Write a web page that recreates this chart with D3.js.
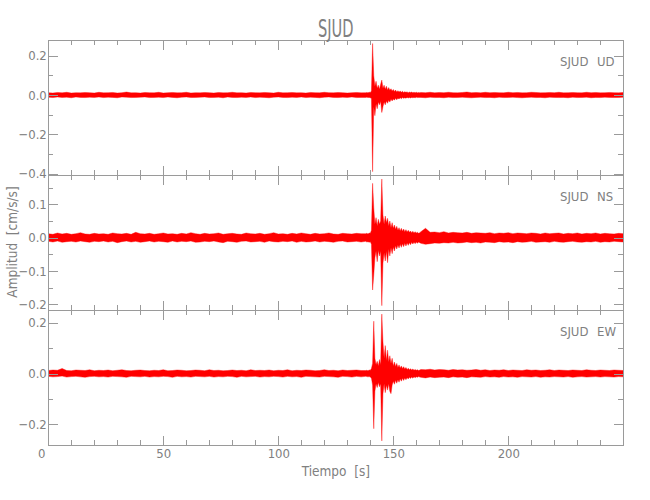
<!DOCTYPE html>
<html><head><meta charset="utf-8">
<script src="https://cdn.jsdelivr.net/npm/d3@7"></script>
<style>
body{margin:0;background:#fff}
text{font-family:"Liberation Sans Narrow","DejaVu Sans Condensed","Liberation Sans",sans-serif;fill:#808080}
</style>
</head><body>
<svg id="c" width="650" height="500"></svg>
<script>
// ---------- chart text ----------
const title = "SJUD";
const station = "SJUD";
const components = ["UD", "NS", "EW"];
const xLabel = "Tiempo  [s]";
const yLabel = "Amplitud  [cm/s/s]";

// ---------- axes ----------
const xDomain = [0, 250];
const xMajorTicks = [0, 50, 100, 150, 200, 250];
const xTickLabels = [0, 50, 100, 150, 200];
const yDomains = [[-0.407, 0.28], [-0.217, 0.188], [-0.281, 0.25]];
const yMajorSteps = [0.2, 0.1, 0.2];
const yMinorSteps = [0.1, 0.05, 0.1];

// ---------- sampling of the traces (start time, step in s) ----------
const preStart = 0, preStep = 2;      // 0 .. 136 s
const evtStart = 138, evtStep = 0.5;  // 138 .. 161.5 s
const postStart = 162, postStep = 2;  // 162 .. 250 s

// ---------- UD trace (upper / lower envelope, cm/s/s) ----------
const udPreHi = [.012,.010,.013,.011,.014,.010,.012,.011,.013,.012,
 .010,.014,.011,.012,.013,.010,.012,.015,.011,.012,
 .010,.013,.012,.011,.014,.010,.012,.013,.011,.012,
 .014,.010,.012,.011,.013,.012,.010,.013,.011,.012,
 .014,.011,.012,.010,.013,.012,.011,.013,.012,.010,
 .014,.011,.012,.013,.011,.012,.010,.013,.012,.011,
 .014,.012,.011,.013,.012,.010,.012,.013,.011];
const udPreLo = [-.011,-.013,-.010,-.012,-.011,-.014,-.010,-.012,-.013,-.011,
 -.012,-.010,-.013,-.011,-.012,-.014,-.010,-.011,-.013,-.012,
 -.011,-.010,-.013,-.012,-.011,-.013,-.010,-.012,-.014,-.011,
 -.010,-.013,-.012,-.011,-.010,-.013,-.012,-.011,-.014,-.010,
 -.012,-.013,-.011,-.012,-.010,-.013,-.011,-.012,-.014,-.011,
 -.010,-.012,-.013,-.011,-.012,-.010,-.013,-.011,-.012,-.014,
 -.011,-.010,-.012,-.013,-.011,-.012,-.010,-.013,-.012];
const udEvtHi = [.012,.013,.011,.014,.013,.020,.262,.098,.045,.070,
 .035,.050,.030,.055,.076,.035,.050,.030,.045,.026,
 .038,.024,.032,.020,.028,.018,.025,.016,.022,.015,
 .020,.014,.019,.013,.017,.014,.016,.012,.015,.013,
 .015,.012,.014,.012,.014,.011,.013,.012];
const udEvtLo = [-.012,-.011,-.013,-.012,-.014,-.018,-.390,-.060,-.105,-.045,
 -.070,-.035,-.050,-.032,-.089,-.060,-.035,-.050,-.030,-.042,
 -.026,-.036,-.022,-.030,-.020,-.026,-.017,-.024,-.016,-.020,
 -.014,-.019,-.013,-.017,-.014,-.016,-.012,-.015,-.013,-.015,
 -.012,-.014,-.012,-.014,-.011,-.013,-.012,-.012];
const udPostHi = [.013,.012,.014,.011,.013,.012,.014,.012,.011,.013,
 .015,.012,.013,.011,.014,.012,.013,.012,.011,.014,
 .012,.013,.011,.012,.014,.013,.011,.012,.013,.012,
 .014,.011,.012,.013,.012,.011,.014,.012,.013,.011,
 .012,.013,.012,.011,.013];
const udPostLo = [-.012,-.014,-.011,-.013,-.012,-.014,-.011,-.013,-.012,-.011,
 -.013,-.014,-.012,-.011,-.013,-.012,-.014,-.011,-.013,-.012,
 -.011,-.013,-.014,-.012,-.011,-.013,-.012,-.014,-.011,-.012,
 -.013,-.012,-.014,-.011,-.013,-.012,-.011,-.014,-.012,-.013,
 -.011,-.012,-.013,-.012,-.011];

// ---------- NS trace ----------
const nsPreHi = [.012,.010,.014,.011,.013,.010,.012,.015,.011,.010,
 .013,.011,.012,.010,.014,.012,.011,.013,.010,.016,
 .012,.011,.013,.010,.012,.014,.011,.012,.010,.013,
 .011,.015,.012,.010,.013,.011,.012,.014,.010,.012,
 .013,.011,.010,.014,.012,.011,.013,.010,.012,.015,
 .011,.012,.010,.013,.011,.014,.012,.010,.013,.011,
 .012,.014,.011,.010,.013,.012,.011,.013,.012];
const nsPreLo = [-.011,-.013,-.010,-.014,-.012,-.011,-.013,-.010,-.012,-.014,
 -.011,-.012,-.010,-.013,-.011,-.015,-.012,-.010,-.013,-.011,
 -.014,-.012,-.010,-.013,-.011,-.012,-.014,-.010,-.013,-.011,
 -.012,-.010,-.014,-.013,-.011,-.012,-.010,-.013,-.015,-.011,
 -.012,-.014,-.011,-.010,-.013,-.012,-.011,-.014,-.010,-.012,
 -.013,-.011,-.012,-.010,-.014,-.011,-.013,-.012,-.010,-.013,
 -.011,-.012,-.014,-.011,-.010,-.013,-.012,-.011,-.013];
const nsEvtHi = [.012,.013,.011,.014,.013,.022,.163,.090,.040,.060,
 .035,.055,.040,.050,.176,.068,.040,.065,.045,.058,
 .035,.050,.030,.045,.028,.038,.025,.034,.022,.030,
 .020,.028,.019,.026,.018,.024,.017,.022,.016,.020,
 .015,.019,.014,.018,.014,.016,.013,.015];
const nsEvtLo = [-.011,-.013,-.012,-.014,-.012,-.020,-.157,-.112,-.060,-.040,
 -.072,-.038,-.055,-.040,-.204,-.077,-.045,-.070,-.040,-.075,
 -.035,-.055,-.030,-.048,-.028,-.040,-.024,-.034,-.022,-.031,
 -.020,-.029,-.018,-.027,-.017,-.025,-.016,-.023,-.015,-.021,
 -.014,-.019,-.014,-.018,-.013,-.017,-.013,-.015];
const nsPostHi = [.018,.028,.016,.017,.015,.018,.014,.016,.015,.014,
 .016,.013,.015,.014,.013,.015,.012,.014,.013,.015,
 .012,.014,.013,.012,.014,.013,.011,.014,.012,.013,
 .014,.011,.013,.012,.014,.011,.013,.012,.014,.011,
 .013,.012,.011,.013,.012];
const nsPostLo = [-.017,-.020,-.018,-.016,-.017,-.015,-.016,-.014,-.016,-.015,
 -.013,-.015,-.014,-.016,-.013,-.014,-.015,-.012,-.014,-.013,
 -.015,-.012,-.014,-.013,-.011,-.014,-.013,-.012,-.014,-.011,
 -.013,-.014,-.012,-.011,-.013,-.014,-.012,-.013,-.011,-.014,
 -.012,-.013,-.011,-.012,-.013];

// ---------- EW trace ----------
const ewPreHi = [.012,.014,.013,.020,.012,.011,.014,.013,.012,.015,
 .011,.013,.012,.014,.011,.013,.015,.012,.011,.013,
 .014,.012,.011,.013,.012,.015,.011,.012,.014,.013,
 .011,.012,.014,.013,.011,.015,.012,.013,.011,.012,
 .014,.012,.013,.011,.015,.012,.013,.012,.014,.011,
 .013,.012,.015,.011,.013,.012,.014,.013,.011,.012,
 .015,.012,.013,.011,.014,.012,.013,.014,.012];
const ewPreLo = [-.011,-.013,-.012,-.010,-.014,-.012,-.011,-.013,-.015,-.012,
 -.011,-.013,-.012,-.014,-.011,-.012,-.013,-.015,-.011,-.012,
 -.013,-.011,-.014,-.012,-.013,-.011,-.012,-.015,-.011,-.013,
 -.012,-.014,-.011,-.012,-.013,-.011,-.014,-.012,-.013,-.011,
 -.012,-.015,-.011,-.013,-.012,-.011,-.014,-.012,-.013,-.011,
 -.012,-.014,-.011,-.013,-.012,-.015,-.011,-.012,-.013,-.014,
 -.011,-.012,-.013,-.015,-.011,-.012,-.014,-.011,-.013];
const ewEvtHi = [.012,.013,.011,.014,.013,.020,.040,.206,.060,.035,
 .048,.030,.055,.035,.234,.125,.060,.110,.050,.092,
 .045,.070,.040,.060,.030,.045,.028,.040,.024,.034,
 .022,.030,.020,.027,.018,.024,.016,.021,.015,.019,
 .014,.018,.013,.016,.013,.015,.012,.014];
const ewEvtLo = [-.011,-.012,-.013,-.012,-.014,-.018,-.045,-.217,-.070,-.040,
 -.055,-.035,-.052,-.040,-.265,-.079,-.040,-.075,-.045,-.065,
 -.040,-.070,-.079,-.045,-.030,-.042,-.026,-.038,-.024,-.034,
 -.020,-.030,-.018,-.027,-.017,-.024,-.016,-.021,-.015,-.019,
 -.014,-.018,-.013,-.016,-.013,-.015,-.012,-.014];
const ewPostHi = [.016,.015,.017,.014,.016,.015,.013,.016,.014,.015,
 .013,.014,.016,.013,.015,.012,.014,.013,.015,.012,
 .014,.013,.012,.015,.013,.014,.012,.013,.015,.012,
 .014,.013,.012,.014,.013,.012,.015,.013,.012,.014,
 .013,.012,.014,.013,.012];
const ewPostLo = [-.015,-.017,-.014,-.016,-.015,-.014,-.016,-.013,-.015,-.014,
 -.016,-.013,-.014,-.015,-.012,-.014,-.013,-.015,-.012,-.014,
 -.013,-.015,-.012,-.013,-.014,-.012,-.015,-.013,-.014,-.012,
 -.013,-.014,-.012,-.015,-.013,-.012,-.014,-.013,-.012,-.014,
 -.012,-.013,-.014,-.012,-.013];

// ---------- assemble ----------
function segment(start, step, hi, lo) {
  return hi.map((h, i) => ({ t: start + i * step, hi: h, lo: lo[i] }));
}
function trace(preHi, preLo, evtHi, evtLo, postHi, postLo) {
  return [].concat(
    segment(preStart, preStep, preHi, preLo),
    segment(evtStart, evtStep, evtHi, evtLo),
    segment(postStart, postStep, postHi, postLo));
}
const traces = [
  trace(udPreHi, udPreLo, udEvtHi, udEvtLo, udPostHi, udPostLo),
  trace(nsPreHi, nsPreLo, nsEvtHi, nsEvtLo, nsPostHi, nsPostLo),
  trace(ewPreHi, ewPreLo, ewEvtHi, ewEvtLo, ewPostHi, ewPostLo)
];

// ---------- layout ----------
const mLeft = 48.3, mRight = 623.3, mTop = 40, panelH = 135;
const axisColor = "#9a9a9a";
const textColor = "#808080";
const svg = d3.select("#c");

const x = d3.scaleLinear().domain(xDomain).range([mLeft, mRight]);
const minorX = d3.range(xDomain[0], xDomain[1] + 0.001, 10);
const fmt = d3.format(".1f");

function styleAxis(g) {
  g.selectAll("path.domain").remove();
  g.selectAll("line").attr("stroke", axisColor).attr("shape-rendering", "crispEdges");
  g.selectAll("text").attr("fill", textColor).style("font-size", "13px")
    .style("font-family", '"Liberation Sans Narrow","DejaVu Sans Condensed",sans-serif');
}

traces.forEach((data, i) => {
  const y0 = mTop + i * panelH, y1 = y0 + panelH;
  const y = d3.scaleLinear().domain(yDomains[i]).range([y1, y0]);
  const [dmin, dmax] = yDomains[i];
  const major = d3.range(Math.ceil(dmin / yMajorSteps[i] - 1e-6) * yMajorSteps[i], dmax + 1e-6, yMajorSteps[i]);
  const minor = d3.range(Math.ceil(dmin / yMinorSteps[i] - 1e-6) * yMinorSteps[i], dmax + 1e-6, yMinorSteps[i]);
  const g = svg.append("g");

  const cid = "clip" + i;
  svg.append("clipPath").attr("id", cid).append("rect")
    .attr("x", mLeft).attr("y", y0).attr("width", mRight - mLeft).attr("height", panelH);

  const area = d3.area().x(d => x(d.t)).y0(d => y(d.lo)).y1(d => y(d.hi));
  g.append("path").datum(data).attr("clip-path", `url(#${cid})`)
    .attr("d", area).attr("fill", "#ff0000").attr("stroke", "#ff0000")
    .attr("stroke-width", 0.4).attr("stroke-linejoin", "round");

  g.append("rect").attr("x", mLeft).attr("y", y0).attr("width", mRight - mLeft).attr("height", panelH)
    .attr("fill", "none").attr("stroke", axisColor).attr("shape-rendering", "crispEdges");

  g.append("g").attr("transform", `translate(${mLeft},0)`)
    .call(d3.axisLeft(y).tickValues(minor).tickSize(-5).tickFormat("")).call(styleAxis);
  g.append("g").attr("transform", `translate(${mLeft},0)`)
    .call(d3.axisLeft(y).tickValues(major).tickSize(-10).tickPadding(1.5).tickFormat(fmt)).call(styleAxis);
  g.append("g").attr("transform", `translate(${mRight},0)`)
    .call(d3.axisRight(y).tickValues(minor).tickSize(-5).tickFormat("")).call(styleAxis);
  g.append("g").attr("transform", `translate(${mRight},0)`)
    .call(d3.axisRight(y).tickValues(major).tickSize(-9).tickFormat("")).call(styleAxis);
  g.append("g").attr("transform", `translate(0,${y0})`)
    .call(d3.axisTop(x).tickValues(minorX).tickSize(-5).tickFormat("")).call(styleAxis);
  g.append("g").attr("transform", `translate(0,${y0})`)
    .call(d3.axisTop(x).tickValues(xMajorTicks).tickSize(-9.5).tickFormat("")).call(styleAxis);
  g.append("g").attr("transform", `translate(0,${y1})`)
    .call(d3.axisBottom(x).tickValues(minorX).tickSize(-5).tickFormat("")).call(styleAxis);
  const bottomAxis = g.append("g").attr("transform", `translate(0,${y1})`)
    .call(d3.axisBottom(x).tickValues(xMajorTicks).tickSize(-9.5).tickPadding(4)
      .tickFormat(d => (i === traces.length - 1 && xTickLabels.includes(d)) ? d : "")).call(styleAxis);
  bottomAxis.selectAll(".tick text").filter(d => d === 0).attr("dx", -7);

  g.append("text").attr("x", 560).attr("y", y0 + 26).style("font-size", "13px").text(station);
  g.append("text").attr("x", 597).attr("y", y0 + 26).style("font-size", "13px").text(components[i]);
});

svg.append("text").attr("transform", `translate(${(mLeft + mRight) / 2},36.5) scale(0.65,1)`)
  .attr("text-anchor", "middle").style("font-size", "25px").text(title);
svg.append("text").attr("x", (mLeft + mRight) / 2).attr("y", 476).attr("text-anchor", "middle")
  .style("font-size", "13.5px").style("white-space", "pre").attr("xml:space", "preserve").text(xLabel);
svg.append("text").attr("transform", "translate(17,242) rotate(-90)").attr("text-anchor", "middle")
  .style("font-size", "13.5px").style("white-space", "pre").attr("xml:space", "preserve").text(yLabel);
</script>
</body></html>
